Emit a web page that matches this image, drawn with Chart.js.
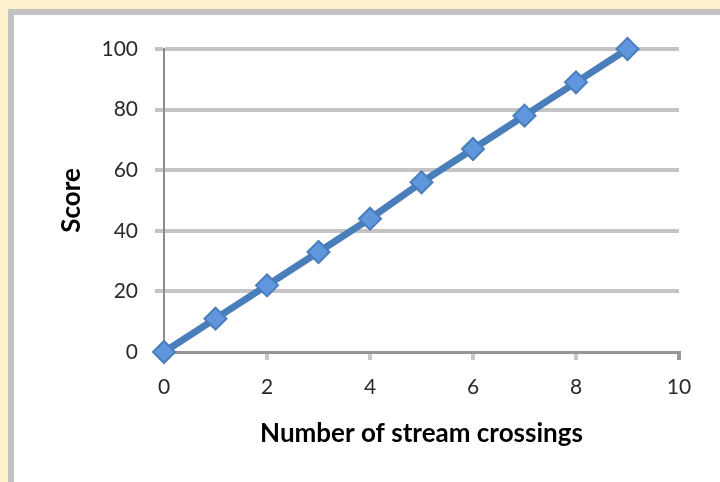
<!DOCTYPE html>
<html>
<head>
<meta charset="utf-8">
<script src="https://cdn.jsdelivr.net/npm/chart.js@4/dist/chart.umd.min.js"></script>
<style>
  html, body { margin: 0; padding: 0; }
  body { width: 720px; height: 482px; background: #FFF0CC; position: relative; overflow: hidden; }
  #box { position: absolute; left: 8px; top: 9px; width: 706px; height: 467px;
         border-left: 6px solid #C2C2C2; border-top: 6px solid #C2C2C2; background: #FFFFFF; }
  canvas { display: block; }
</style>
</head>
<body>
<div id="box"><canvas id="c" width="706" height="467"></canvas></div>
<script>
const crossings = [0, 1, 2, 3, 4, 5, 6, 7, 8, 9];
const scores = [0, 11, 22, 33, 44, 56, 67, 78, 89, 100];
const xTicks = [0, 2, 4, 6, 8, 10];
const yTicks = [0, 20, 40, 60, 80, 100];
const xTitle = 'Number of stream crossings';
const yTitle = 'Score';

const points = crossings.map((x, i) => ({ x: x, y: scores[i] }));

new Chart(document.getElementById('c'), {
  type: 'scatter',
  data: {
    datasets: [{
      data: points,
      showLine: true,
      clip: false,
      borderColor: '#4A7EBB',
      borderWidth: 7,
      pointStyle: 'rectRot',
      pointRadius: 11,
      pointBackgroundColor: '#5F96DE',
      pointBorderColor: '#4A7EBB',
      pointBorderWidth: 2,
      tension: 0
    }]
  },
  options: {
    responsive: false,
    animation: false,
    devicePixelRatio: 1,
    layout: { padding: { left: 0, top: 34, right: 41, bottom: 0 } },
    plugins: { legend: { display: false }, tooltip: { enabled: false } },
    scales: {
      x: {
        type: 'linear',
        min: 0, max: 10,
        afterBuildTicks: s => { s.ticks = xTicks.map(v => ({ value: v })); },
        afterFit: s => { s.height = 130; },
        border: { color: '#959595', width: 3 },
        grid: {
          drawOnChartArea: false, drawTicks: true, tickLength: 8, lineWidth: 4,
          color: ctx => ctx.tick && ctx.tick.value === 10 ? '#9A9A9A' : (ctx.tick && ctx.tick.value === 0 ? 'rgba(0,0,0,0)' : '#C8C8C8')
        },
        ticks: { color: '#2A2A2A', font: { family: 'Lato', size: 21 }, padding: 15, maxRotation: 0 },
        title: { display: true, text: xTitle, color: '#000000', font: { family: 'Lato', size: 26, weight: 'bold' }, padding: { top: 0, bottom: 33 } }
      },
      y: {
        type: 'linear',
        min: 0, max: 100,
        afterBuildTicks: s => { s.ticks = yTicks.map(v => ({ value: v })); },
        afterFit: s => { s.width = 150; },
        border: { color: '#8C8C8C', width: 2 },
        grid: {
          drawTicks: true, tickLength: 9, lineWidth: 4,
          color: ctx => ctx.tick && ctx.tick.value === 0 ? 'rgba(0,0,0,0)' : '#C4C4C4'
        },
        ticks: { color: '#2A2A2A', font: { family: 'Lato', size: 21 }, padding: 17 },
        title: { display: true, text: yTitle, color: '#000000', font: { family: 'Lato', size: 26, weight: 'bold' }, padding: { top: 42, bottom: 0 } }
      }
    }
  }
});
</script>
</body>
</html>
